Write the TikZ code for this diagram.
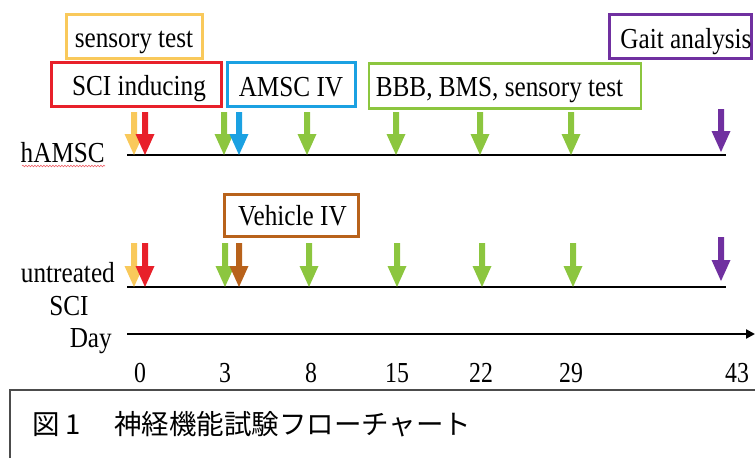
\documentclass[tikz,border=0pt]{standalone}
\usepackage{fontspec}
\setmainfont{Liberation Serif}
\newfontfamily\jpfont{Noto Sans CJK JP}
\usetikzlibrary{decorations.pathmorphing,arrows.meta}
\definecolor{cyel}{HTML}{F9C95B}
\definecolor{cred}{HTML}{E8202A}
\definecolor{cblue}{HTML}{1BA1E2}
\definecolor{cgreen}{HTML}{8CC63F}
\definecolor{cpurp}{HTML}{7030A0}
\definecolor{cbrown}{HTML}{B8621B}
\newcommand\cz[1]{\scalebox{0.87}[1]{#1}}
\newcommand\cn[1]{\scalebox{0.82}[1]{#1}}
\newcommand\myarrow[4]{% x, ytop, ytip, color
  \fill[#4] (#1-3,#2) -- (#1+3,#2) -- (#1+3,#3-21) -- (#1+9.5,#3-21) -- (#1,#3) -- (#1-9.5,#3-21) -- (#1-3,#3-21) -- cycle;}
\begin{document}
\begin{tikzpicture}[x=1pt,y=-1pt,
  frame/.style={draw, line width=2.6pt},
  lbl/.style={font=\fontsize{29}{34}\selectfont, inner sep=0pt, anchor=base},
  num/.style={font=\fontsize{29}{34}\selectfont, inner sep=0pt, anchor=base}]
\useasboundingbox (0,0) rectangle (755,458);
% boxes
\node[frame, draw=cyel, minimum width=136pt, minimum height=44pt] (st) at (134.5,36.5) {};
\node[frame, draw=cred, minimum width=170pt, minimum height=44pt] (sci) at (136.5,84.5) {};
\node[frame, draw=cblue, minimum width=128pt, minimum height=44pt] (amsc) at (291.5,84.5) {};
\node[frame, draw=cgreen, minimum width=272pt, minimum height=45pt] (bbb) at (505,86) {};
\node[frame, draw=cpurp, minimum width=142pt, minimum height=44pt] (gait) at (680.5,36.5) {};
\node[frame, draw=cbrown, minimum width=134pt, minimum height=42pt] (veh) at (291.5,215.5) {};
% box texts
\node[lbl] (tst) at (134,47) {\cz{sensory test}};
\node[lbl] (tsci) at (139,95) {\cz{SCI inducing}};
\node[lbl] (tamsc) at (291,96) {\cz{AMSC IV}};
\node[lbl] (tbbb) at (499.5,96) {\cz{BBB, BMS, sensory test}};
\node[lbl] (tgait) at (686,48) {\cz{Gait analysis}};
\node[lbl] (tveh) at (292.5,225) {\cz{Vehicle IV}};
% row labels
\node[lbl, anchor=base east] (lh) at (105,162) {\cz{hAMSC}};
\draw[cred!70, line width=0.6pt, decorate, decoration={snake, amplitude=0.8pt, segment length=3pt}] (22,166) -- (105,166);
\node[lbl, anchor=base east] (lu) at (115,282) {\cz{untreated}};
\node[lbl] (ls) at (69,315) {\cz{SCI}};
\node[lbl, anchor=base east] (ld) at (112,347) {\cz{Day}};
% timelines
\coordinate (h0) at (127,155); \coordinate (h1) at (726,155);
\coordinate (u0) at (127,287); \coordinate (u1) at (726,287);
\coordinate (d0) at (127,334); \coordinate (d1) at (755,334);
\draw[line width=2.2pt] (h0) -- (h1);
\draw[line width=2.2pt] (u0) -- (u1);
\draw[line width=2.4pt, -{Triangle[length=9pt,width=9pt]}] (d0) -- (d1);
% arrows hAMSC
\myarrow{134}{112}{155}{cyel}
\myarrow{145}{112}{155}{cred}
\myarrow{224}{112}{155}{cgreen}
\myarrow{239}{112}{155}{cblue}
\myarrow{307}{112}{155}{cgreen}
\myarrow{396}{112}{155}{cgreen}
\myarrow{480}{112}{155}{cgreen}
\myarrow{571}{112}{155}{cgreen}
\myarrow{721}{109}{152}{cpurp}
% arrows untreated
\myarrow{134}{243}{287}{cyel}
\myarrow{145}{243}{287}{cred}
\myarrow{225}{243}{287}{cgreen}
\myarrow{239}{243}{287}{cbrown}
\myarrow{309}{243}{287}{cgreen}
\myarrow{397}{243}{287}{cgreen}
\myarrow{482}{243}{287}{cgreen}
\myarrow{573}{243}{287}{cgreen}
\myarrow{721}{237}{281}{cpurp}
% day numbers
\node[num] (n0) at (140,382) {\cn{0}};
\node[num] (n3) at (225,382) {\cn{3}};
\node[num] (n8) at (311,382) {\cn{8}};
\node[num] (n15) at (397,382) {\cn{15}};
\node[num] (n22) at (481,382) {\cn{22}};
\node[num] (n29) at (571,382) {\cn{29}};
\node[num] (n43) at (737,382) {\cn{43}};
% caption frame
\coordinate (c0) at (10,458); \coordinate (c1) at (10,390); \coordinate (c2) at (755,390);
\draw[line width=1.3pt, black!70] (c0) -- (c1) -- (c2);
\node[anchor=west, inner sep=0pt, font=\jpfont\fontsize{27.5}{30}\selectfont] (cap) at (32,424) {図 1\hspace{33pt}神経機能試験フローチャート};
\end{tikzpicture}
\end{document}
